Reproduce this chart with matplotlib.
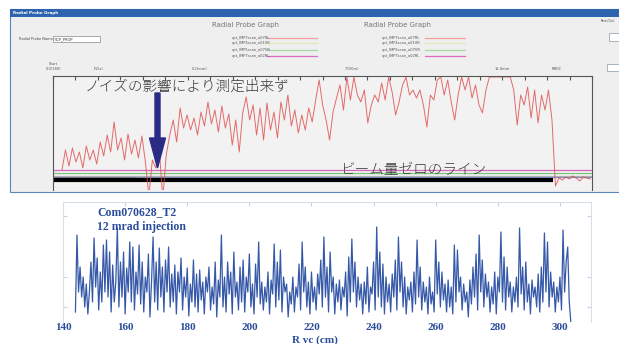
import numpy as np
import matplotlib.pyplot as plt
from matplotlib.patches import Rectangle

W, H = 619, 344

# ---- upper panel: radial probe scan (screen capture) ----
# signal height above the lower edge of the scan window
red_start = 9
red_step = 3.475
red_h = [20, 40, 24, 42, 28, 38, 22, 44, 30, 40, 26,
         48, 34, 55, 38, 68, 40, 52, 30, 56, 36,
         50, 32, 54, 28,
         -6,
         30, 22, 40, -8, 35,
         55, 70, 48, 82, 62, 75,
         60, 72, 55, 78, 64, 88, 66,
         80, 58, 84, 62, 76, 45, 70, 38, 77,
         93, 70, 85, 55, 82, 50, 87, 60, 78, 52,
         88, 70, 95, 64, 80, 57,
         75, 60, 82, 68, 90, 110,
         85, 70, 50, 78, 92, 105, 80,
         113, 90, 113, 95, 88, 100,
         67, 85, 95, 88,
         107, 90, 113, 98, 75,
         88, 105, 113, 95, 100, 92,
         100, 85, 63, 95, 90, 110,
         113, 95, 110, 88, 70, 95,
         113, 100, 113, 92, 105, 85, 77, 100,
         113, 113, 113, 113, 113, 113, 113,
         100, 65, 95, 85, 103, 72, 100, 67, 95, 80, 100, 70,
         4, 12, 10, 13, 11, 14, 12, 9, 13, 12, 11]

# other probe traces sitting near zero beam
ref_levels = [20, 17, 14.5, 13]
ref_colors = ['#d465b8', '#7cc47c', '#a9bca9', '#8a8ac8']
zero_level = 10
zero_end = 500

scan_ticks = ['Start\n0.0(180)', 'F.2(x)', '5.2(mm)', '7.0(0m)', '15.0mm', 'RBDC']
scan_tick_pos = [0, 45, 147, 299, 449, 504]

legend_names = ['opt_IMP7scan_a07RL', 'opt_IMP4scan_a01VR',
                'opt_IMP5scan_a07VR', 'opt_IMP7scan_a02RL']
legend_colors = ['#f2a0a0', '#e6e6b8', '#a6d8a6', '#dc6cc4']

# ---- lower panel: Com070628_T2 ----
blue_r0 = 144.0
blue_dr = 0.5
blue_h = [10, 87, 30, 55, 25, 45, 15, 38, 8, 30, 60, 20, 84, 35, 64, 12, 50, 20, 77, 30,
          82, 25, 70, 10, 57, 20, 40, 94, 15, 60, 25, 70, 8, 54, 30, 80, 20, 75, 12, 50,
          28, 77, 18, 60, 10, 45, 30, 68, 5, 40, 85, 20, 60, 12, 74, 25, 55, 10, 62, 30,
          75, 15, 48, 20, 57, 8, 50, 30, 64, 12, 45, 25, 54, 6, 38, 20, 62, 15, 48, 10,
          52, 22, 40, 8, 45, 30, 55, 12, 35, 18, 60, 5, 42, 25, 87, 15, 45, 10, 60, 28,
          50, 8, 70, 25, 40, 12, 55, 20, 62, 10, 45, 30, 68, 15, 38, 8, 58, 25, 80, 18,
          40, 12, 35, 20, 50, 8, 42, 28, 78, 15, 60, 22, 72, 10, 45, 30, 38, 5, 30, 18,
          45, 10, 35, 25, 58, 12, 80, 30, 55, 15, 40, 8, 50, 20, 35, 12, 48, 28, 62, 15,
          85, 25, 55, 10, 70, 30, 45, 8, 38, 20, 42, 12, 35, 25, 50, 6, 65, 20, 83, 30,
          60, 15, 45, 22, 38, 8, 40, 18, 55, 10, 35, 28, 60, 12, 95, 25, 70, 15, 58, 8,
          45, 20, 38, 10, 48, 25, 62, 12, 85, 30, 60, 15, 45, 8, 35, 22, 40, 10, 50, 18,
          82, 25, 55, 12, 40, 20, 35, 8, 45, 18, 30, 10, 82, 28, 60, 15, 50, 22, 38, 10,
          42, 15, 35, 8, 77, 20, 72, 30, 45, 12, 38, 20, 30, 5, 42, 18, 55, 25, 68, 12,
          87, 30, 62, 15, 48, 25, 40, 10, 35, 18, 50, 8, 45, 30, 90, 20, 65, 12, 55, 25,
          40, 10, 35, 20, 45, 15, 94, 28, 55, 12, 60, 20, 38, 8, 42, 25, 35, 15, 48, 10,
          55, 20, 89, 30, 80, 15, 50, 25, 40, 10, 35, 20, 45, 12, 92, 30, 60, 75, 20, 0]
blue_xticks = [140, 160, 180, 200, 220, 240, 260, 280, 300]
blue_yticks = [15, 45, 106]

navy = '#2b4d9b'


def rect(x0, y0, x1, y1):
    return [x0 / W, 1 - y1 / H, (x1 - x0) / W, (y1 - y0) / H]


fig = plt.figure(figsize=(W / 100, H / 100), dpi=100)

# window chrome behind everything
bg = fig.add_axes([0, 0, 1, 1])
bg.set_xlim(0, W)
bg.set_ylim(H, 0)
bg.axis('off')
bg.add_patch(Rectangle((10, 9), 612, 183, fc='#efefef', ec='#5a86c0', lw=0.8))
bg.add_patch(Rectangle((10, 9), 612, 8, fc='#2d64ad', ec='none'))
bg.text(13, 13, 'Radial Probe Graph', color='white', fontsize=3, weight='bold', va='center')
bg.text(245, 25, 'Radial Probe Graph', color='#777777', fontsize=5, ha='center', va='center')
bg.text(398, 25, 'Radial Probe Graph', color='#777777', fontsize=5, ha='center', va='center')
bg.text(19, 39, 'Radial Probe Name :', color='#444444', fontsize=2.5, va='center')
bg.add_patch(Rectangle((53, 36), 47, 6, fc='white', ec='#888888', lw=0.5))
bg.text(55, 39, 'SCP_PROP', color='#333333', fontsize=2.6, va='center')
bg.text(601, 20, 'Reset/Quit', color='#444444', fontsize=2.0, va='center')
bg.add_patch(Rectangle((609, 33), 14, 8, fc='white', ec='#8899aa', lw=0.5))
bg.add_patch(Rectangle((607, 64), 16, 7, fc='white', ec='#8899aa', lw=0.5))
rows = [37.5, 43, 49.5, 56]
for gx, lx0, lx1 in [(232, 267, 317), (382, 425, 465)]:
    for ry, nm, c in zip(rows, legend_names, legend_colors):
        bg.text(gx, ry, nm, color='#555555', fontsize=2.6, va='center')
        bg.plot([lx0, lx1], [ry, ry], color=c, lw=0.9)

# upper scan plot
ax1 = fig.add_axes(rect(53, 76, 592, 190))
ax1.set_facecolor('#f2f2f2')
red_x = red_start + red_step * np.arange(len(red_h))
for lv, c in zip(ref_levels, ref_colors):
    ax1.hlines(lv, 0, 539, color=c, lw=0.9)
ax1.hlines(12, 0, 84, color='#a02020', lw=1.0)
ax1.hlines(zero_level, 0, zero_end, color='black', lw=3)
ax1.plot(red_x, red_h, color='#e04848', lw=0.7, alpha=0.8)
ax1.set_xlim(0, 539)
ax1.set_ylim(0, 114)
for s in ['top', 'left', 'right']:
    ax1.spines[s].set_color('#555555')
    ax1.spines[s].set_linewidth(0.8)
ax1.spines['bottom'].set_visible(False)
ax1.set_xticks(np.linspace(0, 539, 25))
ax1.set_yticks([])
ax1.tick_params(axis='x', direction='in', length=3, color='#555555', top=True,
                bottom=False, labeltop=False, labelbottom=False)
for p, t in zip(scan_tick_pos, scan_ticks):
    ax1.text(p, 119, t, fontsize=2.6, color='#555555', ha='center', va='bottom',
             clip_on=False)
ax1.arrow(104.5, 97, 0, -75, width=5, head_width=16, head_length=30,
          length_includes_head=True, color='#2b2b85', zorder=5)

fig.text(85 / W, 1 - 87 / H, 'ノイズの影響により測定出来ず', family=['Noto Sans CJK JP'],
         fontsize=10.5, weight='light', color='#3a3a3a', va='center')
fig.text(340 / W, 1 - 170 / H, 'ビーム量ゼロのライン', family=['Noto Sans CJK JP'],
         fontsize=10.5, weight='light', color='#3a3a3a', va='center')

# lower plot
ax2 = fig.add_axes(rect(63, 202, 591, 322))
blue_x = blue_r0 + blue_dr * np.arange(len(blue_h))
ax2.plot(blue_x, blue_h, color='#3558a8', lw=0.9)
ax2.set_xlim(140, 310)
ax2.set_ylim(0, 120)
for s in ['top', 'left', 'right']:
    ax2.spines[s].set_color('#d8deea')
    ax2.spines[s].set_linewidth(0.8)
ax2.spines['bottom'].set_visible(False)
ax2.set_xticks(blue_xticks)
ax2.set_yticks(blue_yticks)
ax2.set_yticklabels([])
ax2.tick_params(axis='x', direction='in', length=3, color='#c8d0e4', top=True,
                bottom=False, labelbottom=True, pad=0.5)
ax2.tick_params(axis='y', direction='in', length=3, color='#c8d0e4', left=True, right=True)
for lab in ax2.get_xticklabels():
    lab.set_family('Liberation Serif')
    lab.set_weight('bold')
    lab.set_fontsize(8)
    lab.set_color(navy)

fig.text(315 / W, 1 - 340.5 / H, 'R vc (cm)', family='Liberation Serif', weight='bold',
         fontsize=8, color=navy, ha='center', va='center')
fig.text(97 / W, 1 - 212 / H, 'Com070628_T2', family='Liberation Serif', weight='bold',
         fontsize=8.5, color=navy, va='center')
fig.text(97 / W, 1 - 227 / H, '12 mrad injection', family='Liberation Serif', weight='bold',
         fontsize=8.5, color=navy, va='center')

fig.savefig('out.png', dpi=100)
